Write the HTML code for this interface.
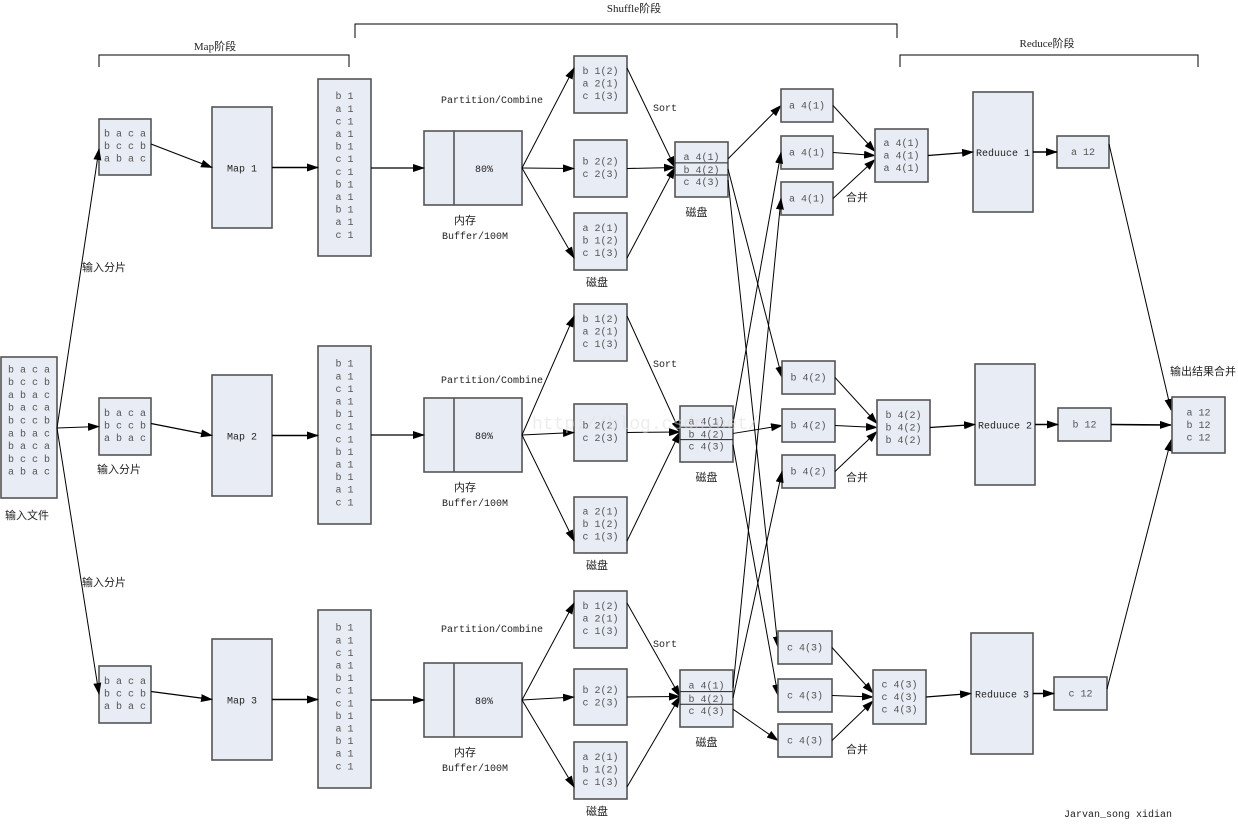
<!DOCTYPE html>
<html><head><meta charset="utf-8">
<style>
html,body{margin:0;padding:0;background:#fff;}
svg{display:block;}
text{font-family:"Liberation Mono","Noto Serif CJK SC",monospace;font-size:10px;fill:#222;}
.g{fill:#555;}
.c{font-family:"Liberation Serif","Noto Sans CJK SC",sans-serif;font-size:11px;}
</style></head><body>
<svg id="s" width="1238" height="825" xmlns="http://www.w3.org/2000/svg">
<defs>
<marker id="ar" markerWidth="12" markerHeight="8" refX="11" refY="4" orient="auto" markerUnits="userSpaceOnUse">
<path d="M0,0 L12,4 L0,8 z" fill="#000"/></marker>
</defs>
</svg>
<script>
var s=document.getElementById('s');var h='';
function R(x1,y1,x2,y2){h+='<rect x="'+x1+'" y="'+y1+'" width="'+(x2-x1)+'" height="'+(y2-y1)+'" fill="#e8ecf5" stroke="#555" stroke-width="1.6"/>';}
function T(x,y,t,c,a){h+='<text x="'+x+'" y="'+y+'" text-anchor="'+(a||'middle')+'" class="'+(c||'')+'">'+t+'</text>';}
function L(x1,y1,x2,y2,w){h+='<line x1="'+x1+'" y1="'+y1+'" x2="'+x2+'" y2="'+y2+'" stroke="#000" stroke-width="'+(w||1)+'" marker-end="url(#ar)"/>';}
function P(d){h+='<path d="'+d+'" fill="none" stroke="#000" stroke-width="1"/>';}
function box(x1,y1,x2,y2,lines,step,off){R(x1,y1,x2,y2);var cx=(x1+x2)/2,cy=(y1+y2)/2+(off||0);var n=lines.length;var st=step||12.5;for(var i=0;i<n;i++)T(cx,cy+(i-(n-1)/2)*st+3,lines[i],'g');}
P('M99,67 V55 H349 V67');T(215,50,'Map阶段','c');
P('M355,38 V24 H897 V38');T(634,12,'Shuffle阶段','c');
P('M900,67 V55 H1198 V67');T(1047,47,'Reduce阶段','c');
var f=[];for(var i=0;i<3;i++)f.push('b a c a','b c c b','a b a c');
box(1,357,57,498,f,12.8,-7);T(27,519,'输入文件','c');
var splitY=[[119,175],[398,455],[666,723]];
var mapY=[[107,228],[375,496],[639,760]];
var pairY=[[79,256],[346,524],[610,788]];
var bufY=[[131,205],[398,472],[663,737]];
var pcY=[99,379,628];
var sortY=[107,363,643];
var partY=[[[56,113],[140,197],[213,270]],[[304,361],[404,461],[497,553]],[[591,648],[669,725],[742,799]]];
var diskX=[[675,728],[680,733],[680,733]];
var diskY=[[142,197],[406,462],[670,727]];
var shX=[[781,833],[782,835],[778,832]];
var shY=[[[89,122],[136,169],[182,215]],[[361,394],[409,442],[455,488]],[[631,664],[679,712],[724,757]]];
var mgX=[[875,928],[877,930],[873,926]];
var mgY=[[129,182],[400,455],[670,724]];
var rdX=[[973,1033],[975,1035],[971,1033]];
var rdY=[[92,212],[364,485],[633,754]];
var rsX=[[1057,1109],[1058,1111],[1054,1107]];
var rsY=[[136,168],[408,441],[677,710]];
var letters=['a','b','c'];
var splitLbl=[[82,271],[97,473],[82,586]];
var pl=['b 1','a 1','c 1','a 1','b 1','c 1','c 1','b 1','a 1','b 1','a 1','c 1'];
var pt=[['b 1(2)','a 2(1)','c 1(3)'],['b 2(2)','c 2(3)'],['a 2(1)','b 1(2)','c 1(3)']];
var mergeLbl=[197,477,749];
for(var r=0;r<3;r++){
 var sy=splitY[r],my=mapY[r],py=pairY[r],by=bufY[r];
 box(99,sy[0],151,sy[1],['b a c a','b c c b','a b a c'],12.5,-1);
 T(splitLbl[r][0],splitLbl[r][1],'输入分片','c','start');
 L(57,428,99,r==0?sy[0]+30:(r==1?(sy[0]+sy[1])/2:sy[0]+28));
 R(212,my[0],272,my[1]);T(242,(my[0]+my[1])/2+4,'Map '+(r+1));
 L(151,(sy[0]+sy[1])/2-3,212,(my[0]+my[1])/2,1.2);
 box(318,py[0],371,py[1],pl,12.6,-2);
 L(272,(my[0]+my[1])/2,318,(my[0]+my[1])/2,1.5);
 R(424,by[0],522,by[1]);h+='<line x1="454" y1="'+by[0]+'" x2="454" y2="'+by[1]+'" stroke="#555" stroke-width="1.6"/>';
 var bc=(by[0]+by[1])/2;T(484,bc+4,'80%');
 L(371,bc,424,bc,1.2);
 T(465,by[1]+19,'内存','c');T(475,by[1]+34,'Buffer/100M');
 T(492,pcY[r]+4,'Partition/Combine');
 var dx=diskX[r],dy=diskY[r];
 for(var k=0;k<3;k++){var p=partY[r][k];box(574,p[0],627,p[1],pt[k],12.5,-1);
  L(522,bc,574,k==0?p[0]+12:(k==1?(p[0]+p[1])/2:p[1]-12));
  L(627,k==0?p[0]+12:(k==1?(p[0]+p[1])/2:p[1]-12),dx[0],(dy[0]+dy[1])/2-2);}
 T(597,partY[r][2][1]+16,'磁盘','c');T(665,sortY[r]+4,'Sort');
 R(dx[0],dy[0],dx[1],dy[1]);
 var l1=dy[0]+(dy[1]-dy[0])*0.38,l2=dy[0]+(dy[1]-dy[0])*0.6;
 h+='<line x1="'+dx[0]+'" y1="'+l1+'" x2="'+dx[1]+'" y2="'+l1+'" stroke="#222"/><line x1="'+dx[0]+'" y1="'+l2+'" x2="'+dx[1]+'" y2="'+l2+'" stroke="#222"/>';
 var dc=(dx[0]+dx[1])/2;T(dc,l1-3,'a 4(1)','g');T(dc,l2-2,'b 4(2)','g');T(dc,l2+10,'c 4(3)','g');
 T(dc+(r==0?-5:0),dy[1]+19,'磁盘','c');
 for(var j=0;j<3;j++){var yy=[l1-4,(l1+l2)/2,l2+5][j];var t=shY[j][r];L(dx[1],yy,shX[j][0],(t[0]+t[1])/2);}
 var mx=mgX[r],mY=mgY[r],mc=(mY[0]+mY[1])/2;
 for(var k=0;k<3;k++){var t=shY[r][k];box(shX[r][0],t[0],shX[r][1],t[1],[letters[r]+' 4('+(r+1)+')']);
  L(shX[r][1],(t[0]+t[1])/2,mx[0],mc+(k-1)*4);}
 T(857,mergeLbl[r]+4,'合并','c');
 box(mx[0],mY[0],mx[1],mY[1],[letters[r]+' 4('+(r+1)+')',letters[r]+' 4('+(r+1)+')',letters[r]+' 4('+(r+1)+')']);
 var rx=rdX[r],ry=rdY[r],rc=(ry[0]+ry[1])/2;
 R(rx[0],ry[0],rx[1],ry[1]);T((rx[0]+rx[1])/2,rc+4,'Reduuce '+(r+1));
 L(mx[1],mc,rx[0],rc,1.2);
 var sx=rsX[r],sY=rsY[r],sc=(sY[0]+sY[1])/2;
 box(sx[0],sY[0],sx[1],sY[1],[letters[r]+' 12']);
 L(rx[1],sc,sx[0],sc,1.6);
 L(sx[1],r==1?sc:(r==0?sY[0]+8:sY[0]+12),1171,r==0?410:(r==1?425:440),r==1?1.6:1);
}
box(1172,397,1225,453,['a 12','b 12','c 12']);
T(1203,375,'输出结果合并','c');
T(1118,817,'Jarvan_song xidian');
h+='<text x="532" y="429" style="font-size:18px;fill:#ddd;opacity:0.5" text-anchor="start">http://blog.csdn.net/</text>';
s.innerHTML+=h;
</script>
</body></html>
